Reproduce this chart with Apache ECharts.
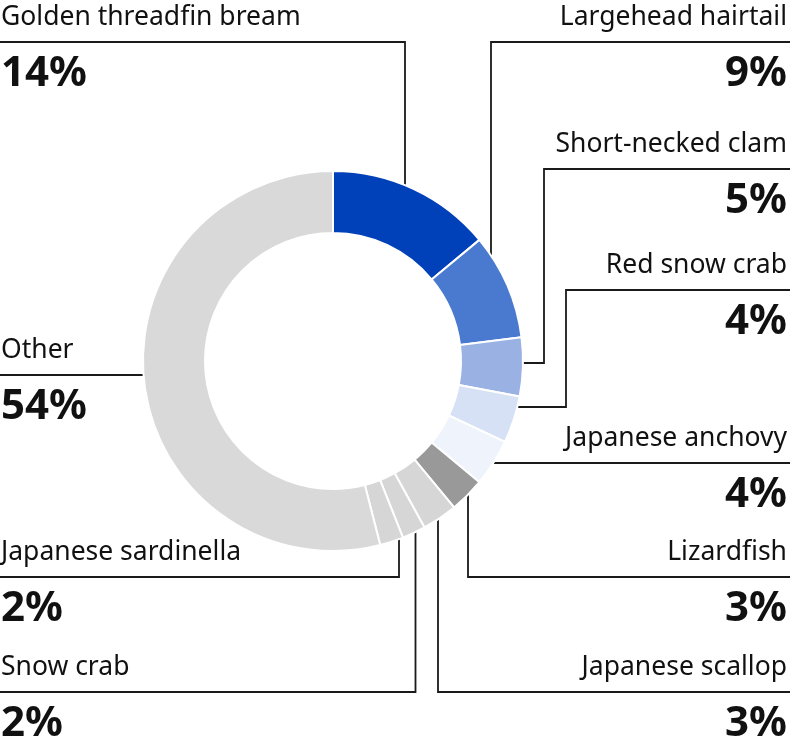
<!DOCTYPE html>
<html><head><meta charset="utf-8">
<script src="https://cdn.jsdelivr.net/npm/echarts@6/dist/echarts.min.js"></script>
<style>html,body{margin:0;padding:0;background:#fff}#c{width:790px;height:750px}</style>
</head><body><div id="c"></div>
<script>
// ---- data ----
const categories = ['Golden threadfin bream','Largehead hairtail','Short-necked clam','Red snow crab','Japanese anchovy','Lizardfish','Japanese scallop','Snow crab','Japanese sardinella','Other'];
const shares = [14, 9, 5, 4, 4, 3, 3, 2, 2, 54];
const sliceColors = ['#0040b8','#4a7acf','#99b2e3','#d7e1f5','#eef3fc','#999999','#d6d6d6','#d6d6d6','#d6d6d6','#d9d9d9'];

// ---- layout ----
const W = 790;
const CX = 333, CY = 361, R_IN = 128, R_OUT = 190;
const labelSpots = [
  {side:'left',  rule:42,  vx:405},
  {side:'right', rule:42,  vx:491},
  {side:'right', rule:169, vx:544, hy:363},
  {side:'right', rule:290, vx:566, hy:407},
  {side:'right', rule:463},
  {side:'right', rule:577, vx:468},
  {side:'right', rule:692, vx:438},
  {side:'left',  rule:692, vx:415.5},
  {side:'left',  rule:577, vx:399},
  {side:'left',  rule:375}
];
function circleY(x, below){ const d = Math.sqrt(Math.max(0, R_OUT*R_OUT-(x-CX)*(x-CX))); return below ? CY+d : CY-d; }
function circleX(y, left){ const d = Math.sqrt(Math.max(0, R_OUT*R_OUT-(y-CY)*(y-CY))); return left ? CX-d : CX+d; }

const chart = echarts.init(document.getElementById('c'), null, {renderer:'canvas'});
const FONT = 'Noto Sans';
chart.setOption({
  animation: false,
  series: [{
    type: 'pie',
    center: [CX, CY],
    radius: [R_IN, R_OUT],
    startAngle: 90,
    clockwise: true,
    avoidLabelOverlap: false,
    silent: true,
    emphasis: {disabled: true},
    itemStyle: {borderColor: '#ffffff', borderWidth: 2},
    label: {
      show: true,
      position: 'outside',
      overflow: 'none',
      formatter: function(p){
        const s = labelSpots[p.dataIndex].side === 'left' ? 'L' : 'R';
        return '{n' + s + '|' + p.name + '}\n{p' + s + '|' + p.value + '%}';
      },
      rich: {
        nL: {fontFamily: FONT, fontSize: 26.5, lineHeight: 50, color: '#111', align: 'left'},
        pL: {fontFamily: FONT, fontSize: 42, fontWeight: 'bold', lineHeight: 64, color: '#111', align: 'left'},
        nR: {fontFamily: FONT, fontSize: 26.5, lineHeight: 50, color: '#111', align: 'right'},
        pR: {fontFamily: FONT, fontSize: 42, fontWeight: 'bold', lineHeight: 64, color: '#111', align: 'right'}
      }
    },
    labelLine: {show: true, length: 10, length2: 10, smooth: false, lineStyle: {color: '#1a1a1a', width: 1.8}},
    labelLayout: function(params){
      const s = labelSpots[params.dataIndex];
      const left = s.side === 'left';
      const edge = left ? 0 : W;
      let pts;
      if (s.vx != null && s.hy != null) {
        pts = [[circleX(s.hy, left), s.hy], [s.vx, s.hy], [s.vx, s.rule], [edge, s.rule]];
      } else if (s.vx != null) {
        pts = [[s.vx, circleY(s.vx, s.rule > CY)], [s.vx, s.rule], [edge, s.rule]];
      } else {
        pts = [[circleX(s.rule, left), s.rule], [edge, s.rule]];
      }
      return {
        x: left ? 1 : W - 3,
        y: s.rule - 50,
        align: left ? 'left' : 'right',
        verticalAlign: 'top',
        labelLinePoints: pts
      };
    },
    data: categories.map(function(n, i){ return {name: n, value: shares[i], itemStyle: {color: sliceColors[i]}}; })
  }]
});
</script>
</body></html>
